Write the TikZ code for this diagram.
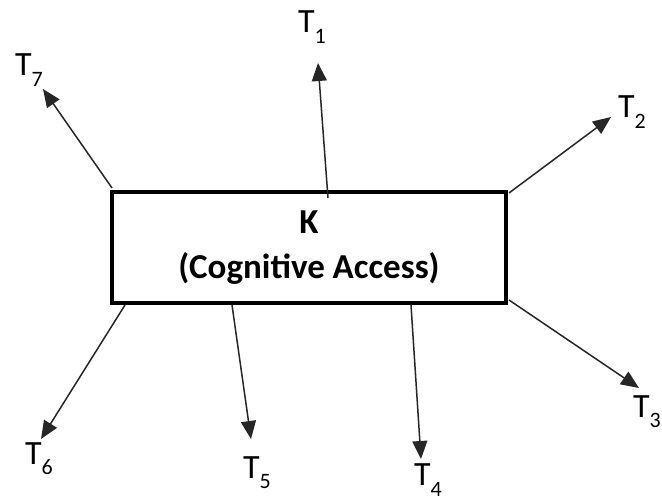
\documentclass[tikz,border=0pt]{standalone}
\usepackage{fontspec}
\setmainfont{Carlito}
\usetikzlibrary{arrows.meta}
\tikzset{
  kbox/.style={draw, line width=3.2pt, minimum width=394pt, minimum height=111pt, inner sep=0pt, align=center, font=\fontsize{35}{45}\selectfont\bfseries},
  tlabel/.style={inner sep=0pt, font=\fontsize{34}{38}\selectfont},
  link/.style={line width=1.5pt, draw=black!85, -{Triangle[length=18pt,width=15pt]}}
}
\newcommand{\tl}[1]{T\raisebox{-0.3em}{\fontsize{22}{24}\selectfont #1}}
\begin{document}
\begin{tikzpicture}[x=1pt,y=-1pt]
\useasboundingbox (0,0) rectangle (662,500);
\node[kbox] (K) at (309,247.5) {K\\(Cognitive Access)};
% label nodes
\node[tlabel] (t1) at (312,27) {\tl{1}};
\node[tlabel] (t2) at (632,112) {\tl{2}};
\node[tlabel, anchor=east] (t3) at (661,412) {\tl{3}};
\node[tlabel] (t4) at (428,480) {\tl{4}};
\node[tlabel] (t5) at (257,473) {\tl{5}};
\node[tlabel] (t6) at (39,459) {\tl{6}};
\node[tlabel] (t7) at (29,70) {\tl{7}};
% start points on box
\coordinate (s1) at (328,198);
\coordinate (s2) at (509,193);
\coordinate (s3) at (509,300);
\coordinate (s4) at (411,305);
\coordinate (s5) at (232,305);
\coordinate (s6) at (125,305);
\coordinate (s7) at (112,188);
% tips
\coordinate (e1) at (318,63);
\coordinate (e2) at (611,117);
\coordinate (e3) at (639,388);
\coordinate (e4) at (421,459);
\coordinate (e5) at (251,439);
\coordinate (e6) at (41,439);
\coordinate (e7) at (43,89);
\foreach \i in {1,...,7} {\draw[link] (s\i) -- (e\i);}
\end{tikzpicture}
\end{document}
